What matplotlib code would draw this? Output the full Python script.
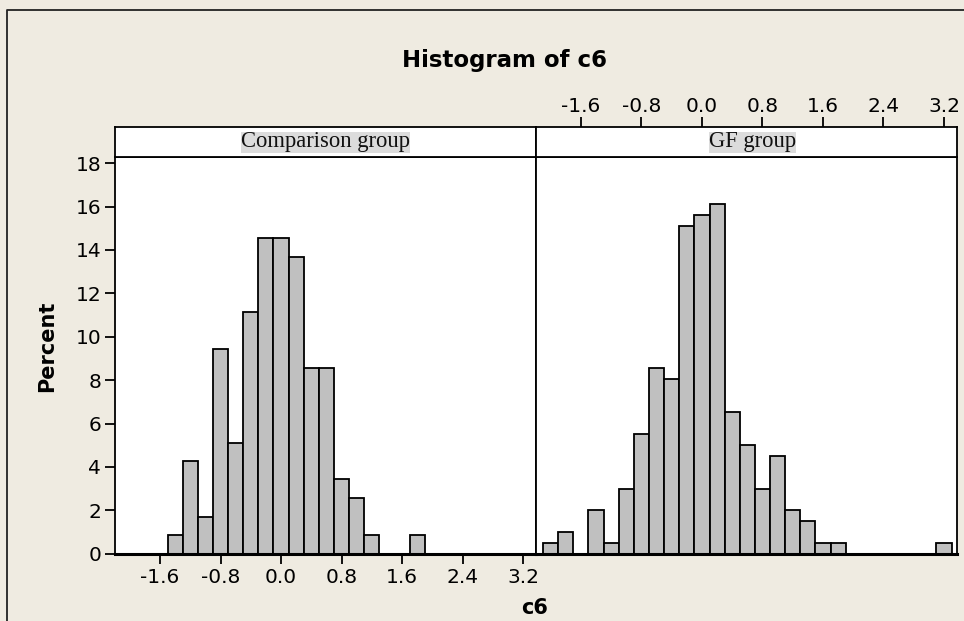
import matplotlib
matplotlib.use("Agg")
import matplotlib.pyplot as plt
from matplotlib.lines import Line2D

# histogram of c6, two panels (percent per bin, bin width 0.2)
comp_bins = [-1.4, -1.2, -1.0, -0.8, -0.6, -0.4, -0.2, 0.0, 0.2, 0.4, 0.6, 0.8, 1.0, 1.2, 1.8]
comp_pct = [0.86, 4.26, 1.70, 9.42, 5.12, 11.12, 14.56, 14.56, 13.69, 8.56, 8.56, 3.43, 2.56, 0.86, 0.86]

gf_bins = [-2.0, -1.8, -1.4, -1.2, -1.0, -0.8, -0.6, -0.4, -0.2, 0.0, 0.2, 0.4,
           0.6, 0.8, 1.0, 1.2, 1.4, 1.6, 1.8, 3.2]
gf_pct = [0.5, 1.0, 2.0, 0.5, 3.0, 5.5, 8.55, 8.05, 15.1, 15.6, 16.1, 6.55,
          5.0, 3.0, 4.5, 2.0, 1.5, 0.5, 0.5, 0.5]

panel_names = ["Comparison group", "GF group"]
x_ticks = [-1.6, -0.8, 0.0, 0.8, 1.6, 2.4, 3.2]
y_ticks = [0, 2, 4, 6, 8, 10, 12, 14, 16, 18]

W, H = 964, 621
bg = "#EFEBE1"
fig = plt.figure(figsize=(W / 100, H / 100), dpi=100, facecolor=bg)


def box(x0, y0, x1, y1):
    # pixel box (top-left origin) -> figure fraction rect
    return [x0 / W, 1 - y1 / H, (x1 - x0) / W, (y1 - y0) / H]


tick_kw = dict(length=7, width=1.3, pad=3, labelsize=14.5, color="black")

panels = [(115, 536, comp_bins, comp_pct, 0.5), (536, 956.7, gf_bins, gf_pct, 0.515)]
for i, (xa, xb, bins, pct, lab_x) in enumerate(panels):
    ax = fig.add_axes(box(xa, 156.7, xb, 553.7))
    ax.bar(bins, pct, width=0.2, color="#C0C0C0", edgecolor="black", linewidth=1.3)
    ax.set_xlim(-2.194, 3.368)
    ax.set_ylim(0, 18.3)
    for s in ax.spines.values():
        s.set_linewidth(1.3)
    ax.spines["bottom"].set_linewidth(2.2)
    ax.set_xticks(x_ticks)
    ax.set_xticklabels(["%.1f" % v for v in x_ticks])
    ax.set_yticks(y_ticks)
    ax.tick_params(**tick_kw)

    st = fig.add_axes(box(xa, 127.3, xb, 156.7), sharex=ax)
    st.set_facecolor("white")
    for s in st.spines.values():
        s.set_linewidth(1.3)
    st.set_yticks([])
    st.text(lab_x, 0.5, panel_names[i], transform=st.transAxes, ha="center", va="center",
            fontsize=16.3, family="Liberation Serif", color="#111111",
            bbox=dict(facecolor="#DCDCDC", edgecolor="none", pad=0))

    if i == 0:
        ax.tick_params(axis="x", bottom=True, labelbottom=True, top=False)
        ax.tick_params(axis="y", left=True, labelleft=True)
        st.tick_params(axis="x", bottom=False, labelbottom=False, top=False, labeltop=False)
    else:
        ax.tick_params(axis="x", bottom=False, labelbottom=False)
        ax.tick_params(axis="y", left=False, labelleft=False)
        st.tick_params(axis="x", bottom=False, labelbottom=False, top=True, labeltop=True, **tick_kw)
        st.tick_params(axis="x", pad=1)

fig.text(504 / W, 1 - 66.7 / H, "Histogram of c6", ha="center", va="baseline",
         fontsize=16.5, fontweight="bold")
fig.text(47 / W, 1 - 346 / H, "Percent", ha="center", va="center", rotation=90,
         fontsize=15, fontweight="bold")
fig.text(535 / W, 1 - 607.5 / H, "c6", ha="center", va="center",
         fontsize=15, fontweight="bold")

# outer frame of the graph window (cut off at right and bottom)
fig.add_artist(Line2D([7 / W, 7 / W, 1.05], [-0.05, 1 - 10 / H, 1 - 10 / H],
                      transform=fig.transFigure, color="#222222", linewidth=1.3))

fig.savefig("out.png", dpi=100, facecolor=bg)
